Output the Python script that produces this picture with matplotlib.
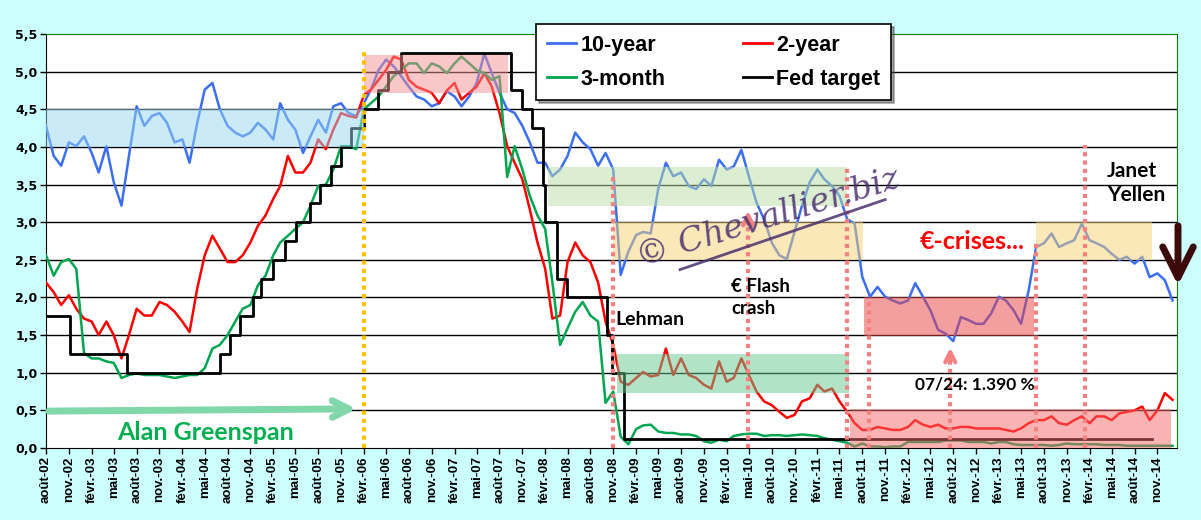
import pandas as pd
import matplotlib
matplotlib.use("Agg")
import matplotlib.pyplot as plt
from matplotlib.patches import Rectangle, FancyArrowPatch
from matplotlib.lines import Line2D

# monthly readings, first of each month from Aug 2002 to Jan 2015
dates = pd.date_range("2002-08-01", periods=150, freq="MS")

ten_year = [
    4.28, 3.88, 3.75, 4.06, 4.01, 4.14, 3.92, 3.66, 4.01, 3.53,
    3.22, 3.88, 4.54, 4.28, 4.41, 4.45, 4.32, 4.06, 4.10, 3.79,
    4.32, 4.76, 4.85, 4.50, 4.28, 4.19, 4.14, 4.19, 4.32, 4.23,
    4.10, 4.58, 4.36, 4.23, 3.92, 4.14, 4.36, 4.19, 4.54, 4.58,
    4.45, 4.41, 4.58, 4.76, 5.02, 5.16, 5.07, 4.94, 4.80, 4.67,
    4.63, 4.54, 4.58, 4.74, 4.67, 4.54, 4.67, 4.85, 5.24, 4.98,
    4.72, 4.50, 4.45, 4.28, 4.06, 3.79, 3.79, 3.61, 3.70, 3.88,
    4.19, 4.06, 3.97, 3.75, 3.92, 3.70, 2.30, 2.61, 2.83, 2.87,
    2.85, 3.44, 3.79, 3.61, 3.66, 3.48, 3.44, 3.57, 3.48, 3.83,
    3.70, 3.74, 3.96, 3.61, 3.26, 3.04, 2.73, 2.56, 2.51, 2.87,
    3.22, 3.53, 3.70, 3.57, 3.48, 3.35, 3.04, 2.98, 2.27, 2.01,
    2.14, 2.01, 1.96, 1.92, 1.96, 2.19, 2.01, 1.83, 1.57, 1.52,
    1.42, 1.74, 1.70, 1.65, 1.65, 1.79, 2.01, 1.96, 1.83, 1.65,
    2.10, 2.67, 2.72, 2.85, 2.67, 2.72, 2.76, 2.98, 2.76, 2.72,
    2.67, 2.58, 2.50, 2.54, 2.45, 2.54, 2.27, 2.32, 2.23, 1.96,
]

two_year = [
    2.20, 2.07, 1.90, 2.03, 1.85, 1.72, 1.68, 1.50, 1.68, 1.50,
    1.19, 1.50, 1.85, 1.76, 1.76, 1.94, 1.90, 1.81, 1.68, 1.54,
    2.12, 2.56, 2.82, 2.65, 2.47, 2.47, 2.56, 2.73, 2.95, 3.09,
    3.31, 3.48, 3.88, 3.66, 3.66, 3.79, 4.10, 3.97, 4.23, 4.45,
    4.41, 4.39, 4.69, 4.76, 4.89, 5.02, 5.20, 5.16, 4.89, 4.80,
    4.76, 4.72, 4.58, 4.75, 4.85, 4.63, 4.72, 4.80, 4.98, 4.80,
    4.45, 4.01, 3.79, 3.57, 3.17, 2.73, 2.38, 1.72, 1.76, 2.47,
    2.73, 2.56, 2.47, 2.20, 1.68, 1.37, 0.88, 0.84, 0.93, 1.01,
    0.95, 0.97, 1.32, 0.97, 1.19, 0.97, 0.93, 0.84, 0.79, 1.15,
    0.88, 0.93, 1.19, 0.97, 0.75, 0.62, 0.57, 0.48, 0.40, 0.44,
    0.62, 0.66, 0.84, 0.75, 0.79, 0.62, 0.48, 0.33, 0.24, 0.24,
    0.28, 0.26, 0.24, 0.24, 0.28, 0.37, 0.31, 0.28, 0.31, 0.26,
    0.26, 0.28, 0.28, 0.26, 0.26, 0.26, 0.26, 0.24, 0.22, 0.26,
    0.33, 0.37, 0.37, 0.42, 0.33, 0.31, 0.37, 0.42, 0.33, 0.42,
    0.42, 0.37, 0.46, 0.48, 0.50, 0.55, 0.37, 0.50, 0.73, 0.64,
]

three_month = [
    2.56, 2.29, 2.47, 2.51, 2.38, 1.26, 1.19, 1.19, 1.15, 1.13,
    0.93, 0.97, 0.99, 0.97, 0.97, 0.97, 0.95, 0.93, 0.95, 0.97,
    0.97, 1.06, 1.32, 1.37, 1.50, 1.68, 1.85, 1.90, 2.16, 2.29,
    2.56, 2.73, 2.82, 2.91, 3.00, 3.22, 3.48, 3.50, 3.70, 4.01,
    4.01, 3.97, 4.50, 4.58, 4.67, 4.80, 4.94, 5.02, 5.11, 5.11,
    4.98, 5.11, 5.07, 4.98, 5.11, 5.20, 5.11, 5.02, 4.98, 4.89,
    4.94, 3.60, 4.01, 3.70, 3.35, 3.09, 2.91, 2.20, 1.37, 1.59,
    1.81, 1.94, 1.76, 1.68, 0.60, 0.75, 0.15, 0.05, 0.25, 0.30,
    0.31, 0.22, 0.20, 0.20, 0.18, 0.18, 0.16, 0.09, 0.07, 0.11,
    0.09, 0.16, 0.18, 0.19, 0.19, 0.16, 0.17, 0.17, 0.16, 0.17,
    0.18, 0.17, 0.16, 0.13, 0.11, 0.09, 0.07, 0.02, 0.06, 0.02,
    0.02, 0.01, 0.02, 0.02, 0.08, 0.08, 0.08, 0.08, 0.08, 0.10,
    0.10, 0.10, 0.08, 0.08, 0.08, 0.06, 0.08, 0.08, 0.05, 0.04,
    0.04, 0.04, 0.04, 0.03, 0.04, 0.06, 0.05, 0.05, 0.05, 0.05,
    0.04, 0.04, 0.04, 0.03, 0.03, 0.03, 0.03, 0.03, 0.03, 0.03,
]

fed_dates = pd.to_datetime([
    "2002-08-01", "2002-11-06", "2003-06-25", "2004-06-30", "2004-08-10",
    "2004-09-21", "2004-11-10", "2004-12-14", "2005-02-02", "2005-03-22",
    "2005-05-03", "2005-06-30", "2005-08-09", "2005-09-20", "2005-11-01",
    "2005-12-13", "2006-01-31", "2006-03-28", "2006-05-10", "2006-06-29",
    "2007-09-18", "2007-10-31", "2007-12-11", "2008-01-22", "2008-01-30",
    "2008-03-18", "2008-04-30", "2008-10-08", "2008-10-29", "2008-12-16",
    "2014-10-10",
])
fed_target = [1.75, 1.25, 1.00, 1.25, 1.50, 1.75, 2.00, 2.25, 2.50, 2.75,
              3.00, 3.25, 3.50, 3.75, 4.00, 4.25, 4.50, 4.75, 5.00, 5.25,
              4.75, 4.50, 4.25, 3.50, 3.00, 2.25, 2.00, 1.50, 1.00, 0.125,
              0.125]

# shaded ranges: start, end, low, high, colour
boxes = [
    ("2002-08-01", "2006-02-01", 4.00, 4.50, "#99d7f1"),
    ("2006-02-01", "2007-09-04", 4.72, 5.22, "#f59191"),
    ("2008-02-13", "2011-06-01", 3.21, 3.73, "#bbdfa5"),
    ("2008-11-01", "2011-08-03", 2.50, 3.00, "#f9d373"),
    ("2013-07-01", "2014-10-10", 2.50, 3.00, "#f9d373"),
    ("2008-11-16", "2011-06-07", 0.73, 1.25, "#69c991"),
    ("2011-08-07", "2013-06-22", 1.49, 2.00, "#eb4141"),
    ("2011-06-12", "2014-12-24", 0.00, 0.52, "#f56969"),
]

# event lines: date, top of the line
events = [
    ("2008-11-01", 3.65), ("2010-04-28", 3.05), ("2011-06-01", 3.76),
    ("2011-08-28", 1.97), ("2012-07-20", 1.30), ("2013-07-01", 2.76),
    ("2014-01-13", 4.02),
]

fr_months = {2: "févr.", 5: "mai", 8: "août", 11: "nov."}
tick_dates = pd.date_range("2002-08-01", "2014-11-01", freq="3MS")
tick_labels = [f"{fr_months[d.month]}-{d.strftime('%y')}" for d in tick_dates]

fig = plt.figure(figsize=(12.01, 5.2), dpi=100)
fig.patch.set_facecolor("#ccffff")
ax = fig.add_axes([46 / 1201, 72 / 520, 1131 / 1201, 414 / 520])
ax.set_facecolor("white")

ax.plot(dates, ten_year, color="#3c6ef0", lw=1.8, zorder=3)
ax.plot(dates, two_year, color="#ff0000", lw=1.8, zorder=3)
ax.plot(dates, three_month, color="#00a550", lw=1.8, zorder=3)
ax.plot(fed_dates, fed_target, color="black", lw=2, drawstyle="steps-post", zorder=3)

for start, end, lo, hi, col in boxes:
    x0 = pd.Timestamp(start)
    x1 = pd.Timestamp(end)
    ax.add_patch(Rectangle((x0, lo), x1 - x0, hi - lo, facecolor=col,
                           edgecolor="none", alpha=0.5, zorder=4))

ax.vlines(pd.Timestamp("2006-02-01"), 0, 5.30, colors="#ffc000", lw=3,
          linestyles=(0, (1, 1)), zorder=5)
for d, top in events:
    ax.vlines(pd.Timestamp(d), 0, top, colors="#f58080", lw=3,
              linestyles=(0, (1, 1)), zorder=5)

for d, y in [("2010-04-28", 3.19), ("2012-07-20", 1.37)]:
    ax.annotate("", xy=(pd.Timestamp(d), y), xytext=(pd.Timestamp(d), y - 0.25),
                arrowprops=dict(arrowstyle="->", color="#f58080", lw=3,
                                mutation_scale=18), zorder=6)

ax.set_xlim(pd.Timestamp("2002-08-01"), pd.Timestamp("2015-01-19"))
ax.set_ylim(0, 5.5)
ax.set_yticks([i * 0.5 for i in range(12)])
ax.set_yticklabels([f"{i * 0.5:.1f}".replace(".", ",") for i in range(12)],
                   fontsize=9, fontweight="bold", family="DejaVu Sans")
ax.set_xticks(tick_dates)
ax.set_xticklabels(tick_labels, rotation=90, fontsize=9.5, fontweight="bold",
                   family="Liberation Sans")
ax.tick_params(axis="both", length=4, width=1, pad=2)
for y in [i * 0.5 for i in range(1, 11)]:
    ax.axhline(y, color="black", lw=1, zorder=1)
ax.spines["top"].set_color("#008000")
ax.spines["right"].set_color("#008000")

# annotations
txt = dict(fontweight="bold", family="Lato", zorder=7)
ax.text(pd.Timestamp("2003-05-16"), 0.21, "Alan Greenspan", color="#00b050",
        fontsize=18, va="center", **txt)
ax.annotate("", xy=(pd.Timestamp("2006-01-14"), 0.52),
            xytext=(pd.Timestamp("2002-08-01"), 0.49),
            arrowprops=dict(arrowstyle="->", color="#80d8aa", lw=5,
                            mutation_scale=30), zorder=6)
ax.text(pd.Timestamp("2008-11-09"), 1.71, "Lehman", fontsize=14, va="center", **txt)
ax.text(pd.Timestamp("2010-02-18"), 2.0, "€ Flash\ncrash", fontsize=13.5,
        va="center", linespacing=1.35, **txt)
ax.text(pd.Timestamp("2012-03-20"), 2.74, "€-crises...", color="#ff0000",
        fontsize=18, va="center", **txt)
ax.text(pd.Timestamp("2012-03-01"), 0.84, "07/24: 1.390 %", fontsize=12.5,
        va="center", **txt)
ax.text(pd.Timestamp("2014-04-12"), 3.52, "Janet\nYellen", fontsize=15,
        va="center", linespacing=1.3, **txt)
fig.patches.append(FancyArrowPatch(
    (1178, 297), (1178, 232), transform=None, arrowstyle="->",
    color="#3c0a0a", lw=5, mutation_scale=55, figure=fig))

# watermark
ax.text(pd.Timestamp("2010-07-20"), 3.05, "© Chevallier.biz", color="#4b3070",
        alpha=0.85, fontsize=24, family="DejaVu Serif", style="italic",
        rotation=17, ha="center", va="center", zorder=7)
ax.plot(pd.to_datetime(["2009-07-28", "2011-11-01"]), [2.37, 3.30],
        color="#4b3070", alpha=0.85, lw=2, zorder=7)

handles = [Line2D([], [], color="#3c6ef0", lw=2),
           Line2D([], [], color="#00a550", lw=2),
           Line2D([], [], color="#ff0000", lw=2),
           Line2D([], [], color="black", lw=2)]
labels = ["10-year", "3-month", "2-year", "Fed target"]
leg = ax.legend(handles, labels, ncol=2, loc="upper left",
                bbox_to_anchor=(536 / 1201, 1 - 24 / 520),
                bbox_transform=fig.transFigure, borderaxespad=0,
                frameon=True, fancybox=False,
                shadow=True, edgecolor="black", framealpha=1,
                prop=dict(family="Liberation Sans", weight="bold", size=15.5),
                handlelength=1.35, handletextpad=0.2, columnspacing=3.6,
                labelspacing=0.6, borderpad=0.5)
leg.get_frame().set_linewidth(1.2)
leg.set_zorder(10)

plt.savefig("out.png", dpi=100, facecolor=fig.get_facecolor())
